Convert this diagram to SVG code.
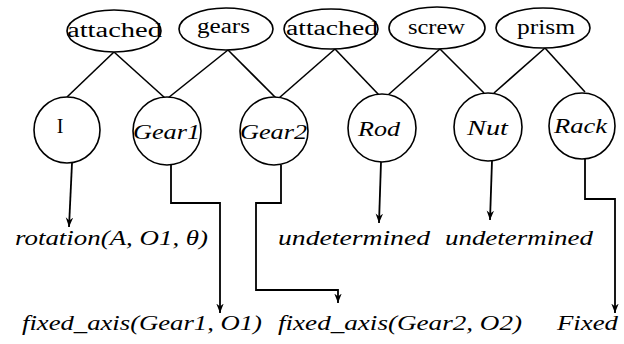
<svg xmlns="http://www.w3.org/2000/svg" width="624" height="344" viewBox="0 0 624 344">
  <style>
    .rel ellipse, .obj circle { fill: #fff; stroke: #000; stroke-width: 1.6; }
    .rel text { font-family: "Liberation Serif", "DejaVu Serif", serif; font-size: 20px; fill: #000; }
    .obj text, .out text { font-family: "Liberation Serif", "DejaVu Serif", serif; font-style: italic; font-size: 20px; fill: #000; }
    .obj text.roman { font-style: normal; }
    #links path { fill: none; stroke: #000; stroke-width: 1.6; }
    #flows path { fill: none; stroke: #000; stroke-width: 1.8; marker-end: url(#head); }
  </style>
  <defs>
    <marker id="head" markerUnits="userSpaceOnUse" viewBox="0 0 10 8" markerWidth="10" markerHeight="8" refX="9.5" refY="4" orient="auto">
      <path d="M0,0.3 L9.5,4 L0,7.7 L3,4 Z" fill="#000"/>
    </marker>
  </defs>

  <!-- links between relations and objects -->
  <g id="links">
    <path d="M114,52 L67,97"/>
    <path d="M114,52 L165,98"/>
    <path d="M228,50 L168,98"/>
    <path d="M228,50 L276,98"/>
    <path d="M335,49 L279,98"/>
    <path d="M335,49 L379,95"/>
    <path d="M440,49 L388,95"/>
    <path d="M440,49 L484,93"/>
    <path d="M545,48 L494,93"/>
    <path d="M545,48 L585,92"/>
  </g>

  <!-- flows from objects to their motion -->
  <g id="flows">
    <path d="M72,163 L69,227"/>
    <path d="M171,165 V203 H220 V313"/>
    <path d="M281,165 V203 H256 V290 H338 V303"/>
    <path d="M381,162 L379,223"/>
    <path d="M492,161 L490,220"/>
    <path d="M585,159 V199 H615 V313"/>
  </g>

  <!-- relations -->
  <g id="rel-attached-1" class="rel">
    <ellipse cx="114" cy="31" rx="47" ry="21"/>
    <text x="67" y="37" textLength="95" lengthAdjust="spacingAndGlyphs">attached</text>
  </g>
  <g id="rel-gears" class="rel">
    <ellipse cx="226" cy="29" rx="47" ry="21"/>
    <text x="197" y="33" textLength="53" lengthAdjust="spacingAndGlyphs">gears</text>
  </g>
  <g id="rel-attached-2" class="rel">
    <ellipse cx="331" cy="29" rx="47" ry="20"/>
    <text x="286" y="35" textLength="92" lengthAdjust="spacingAndGlyphs">attached</text>
  </g>
  <g id="rel-screw" class="rel">
    <ellipse cx="437" cy="28" rx="48" ry="21"/>
    <text x="408" y="34" textLength="57" lengthAdjust="spacingAndGlyphs">screw</text>
  </g>
  <g id="rel-prism" class="rel">
    <ellipse cx="543" cy="28" rx="47" ry="20"/>
    <text x="517" y="34" textLength="58" lengthAdjust="spacingAndGlyphs">prism</text>
  </g>

  <!-- objects -->
  <g id="obj-i" class="obj">
    <circle cx="67" cy="130" r="33"/>
    <text class="roman" x="60" y="133" text-anchor="middle">I</text>
  </g>
  <g id="obj-gear1" class="obj">
    <circle cx="167" cy="131" r="34"/>
    <text x="133" y="139" textLength="67" lengthAdjust="spacingAndGlyphs">Gear1</text>
  </g>
  <g id="obj-gear2" class="obj">
    <circle cx="274" cy="131" r="34"/>
    <text x="240" y="139" textLength="67" lengthAdjust="spacingAndGlyphs">Gear2</text>
  </g>
  <g id="obj-rod" class="obj">
    <circle cx="382" cy="128" r="34"/>
    <text x="358" y="136" textLength="42" lengthAdjust="spacingAndGlyphs">Rod</text>
  </g>
  <g id="obj-nut" class="obj">
    <circle cx="488" cy="127" r="34"/>
    <text x="467" y="135" textLength="41" lengthAdjust="spacingAndGlyphs">Nut</text>
  </g>
  <g id="obj-rack" class="obj">
    <circle cx="582" cy="126" r="33"/>
    <text x="554" y="133" textLength="53" lengthAdjust="spacingAndGlyphs">Rack</text>
  </g>

  <!-- resulting motions -->
  <g id="out-i" class="out">
    <text x="15" y="245" textLength="193" lengthAdjust="spacingAndGlyphs">rotation(A, O1, θ)</text>
  </g>
  <g id="out-rod" class="out">
    <text x="278" y="245" textLength="152" lengthAdjust="spacingAndGlyphs">undetermined</text>
  </g>
  <g id="out-nut" class="out">
    <text x="445" y="245" textLength="148" lengthAdjust="spacingAndGlyphs">undetermined</text>
  </g>
  <g id="out-gear1" class="out">
    <text x="22" y="330" textLength="240" lengthAdjust="spacingAndGlyphs">fixed_axis(Gear1, O1)</text>
  </g>
  <g id="out-gear2" class="out">
    <text x="278" y="330" textLength="244" lengthAdjust="spacingAndGlyphs">fixed_axis(Gear2, O2)</text>
  </g>
  <g id="out-rack" class="out">
    <text x="557" y="330" textLength="61" lengthAdjust="spacingAndGlyphs">Fixed</text>
  </g>
</svg>
